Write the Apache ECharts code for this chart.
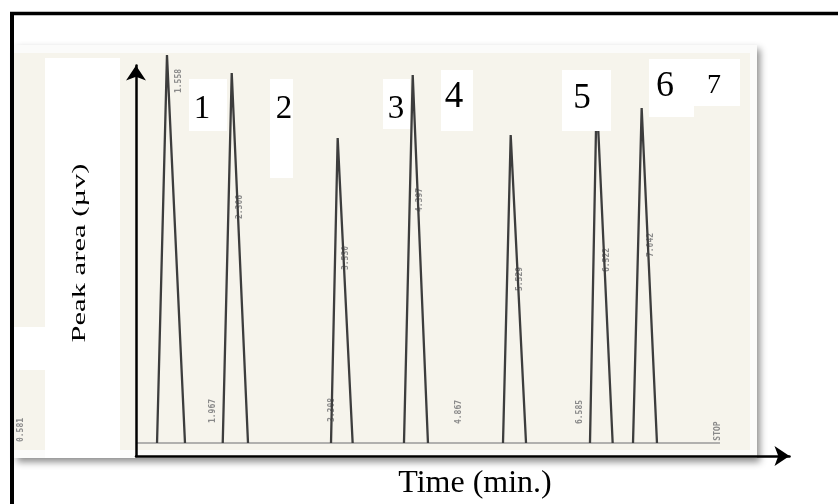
<!DOCTYPE html>
<html>
<head>
<meta charset="utf-8">
<script src="https://cdn.jsdelivr.net/npm/echarts@6/dist/echarts.min.js"></script>
<style>
html,body{margin:0;padding:0;background:#fff;}
#chart{width:838px;height:504px;}
</style>
</head>
<body>
<div id="chart"></div>
<script>
// ---- data (time in min, peak height in arbitrary µV units) ----
const peakStart  = [1.443, 2.202, 3.453, 4.296, 5.440, 6.445, 6.942];
const peakApex   = [1.558, 2.306, 3.530, 4.397, 5.529, 6.522, 7.042];
const peakEnd    = [1.766, 2.494, 3.703, 4.573, 5.706, 6.707, 7.219];
const peakHeight = [97.0, 92.5, 76.25, 92.0, 77.0, 87.0, 83.75];
const baselineRange = [1.212, 7.947];
const peakLabels = ['1', '2', '3', '4', '5', '6', '7'];
const xTitle = 'Time (min.)';
const yTitle = 'Peak area (µv)';
const printedTimes = ['1.558', '2.306', '1.967', '3.530', '3.308', '4.397', '4.867', '5.529', '6.585', '6.522', '7.042', 'STOP', '0.581'];

// ---- layout (pixel positions of decorations) ----
const labelLayout = [
  {box:[189,79,38,52], x:202, y:109, size:33},
  {box:[270,79,23,99], x:284, y:109, size:33},
  {box:[383,79,27,50], x:396, y:109, size:33},
  {box:[441,70,32,61], x:454, y:97, size:37},
  {box:[562,70,49,61], x:582, y:99, size:35},
  {box:[649,59,45,58], x:665, y:87, size:36},
  {box:[694,59,46,47], x:714, y:86, size:28}
];
const printedLayout = [
  [179,81],[240,207],[213,411],[346,258],[332,410],[420,200],[459,412],
  [520,279],[580,412],[607,260],[651,245],[718,431],[21,430]
];

const series = [];
series.push({
  type:'line', name:'baseline', showSymbol:false, silent:true, z:3,
  data: baselineRange.map(t => [t, 0]),
  lineStyle:{color:'#9a9a9a', width:1.3}
});
for (let i = 0; i < peakApex.length; i++) {
  series.push({
    type:'line', name:'peak ' + peakLabels[i], showSymbol:false, silent:true, clip:false, z:4,
    data:[[peakStart[i], 0], [peakApex[i], peakHeight[i]], [peakEnd[i], 0]],
    lineStyle:{color:'#3d3d3d', width:2.3, join:'miter'}
  });
}

const serif = '"Liberation Serif", "Times New Roman", serif';
const graphics = [];
// paper (scanned chromatogram)
graphics.push({type:'rect', z:0, shape:{x:14,y:45,width:743,height:413},
  style:{fill:'#fbfbfa', shadowBlur:7, shadowOffsetX:3, shadowOffsetY:4, shadowColor:'rgba(0,0,0,0.45)'}});
graphics.push({type:'rect', z:0, shape:{x:14,y:53,width:736,height:397}, style:{fill:'#f6f4ec'}});
graphics.push({type:'rect', z:0, shape:{x:45,y:58,width:75,height:400}, style:{fill:'#ffffff'}});
graphics.push({type:'rect', z:0, shape:{x:14,y:327,width:31,height:43}, style:{fill:'#ffffff'}});
// printed retention times (faint dotted printer text)
printedTimes.forEach((s, i) => {
  graphics.push({type:'text', z:1, x:printedLayout[i][0], y:printedLayout[i][1], rotation:Math.PI/2,
    style:{text:s, fill:'#8a8a8a', font:'bold 8px "DejaVu Sans Mono", monospace', textAlign:'center', textVerticalAlign:'middle'}});
});
// peak number boxes
peakLabels.forEach((s, i) => {
  const L = labelLayout[i];
  graphics.push({type:'rect', z:10, shape:{x:L.box[0], y:L.box[1], width:L.box[2], height:L.box[3]}, style:{fill:'#ffffff'}});
  graphics.push({type:'text', z:11, x:L.x, y:L.y,
    style:{text:s, fill:'#000', font:L.size + 'px ' + serif, textAlign:'center', textVerticalAlign:'middle'}});
});
// axis titles
graphics.push({type:'text', z:11, x:80, y:253, rotation:Math.PI/2, scaleX:1.7,
  style:{text:yTitle, fill:'#000', font:'18px ' + serif, textAlign:'center', textVerticalAlign:'middle'}});
graphics.push({type:'text', z:11, x:475, y:484,
  style:{text:xTitle, fill:'#000', font:'32px ' + serif, textAlign:'center', textVerticalAlign:'middle'}});
// outer frame
graphics.push({type:'line', z:12, shape:{x1:10, y1:13.5, x2:838, y2:13.5}, style:{stroke:'#000', lineWidth:3.5}});
graphics.push({type:'line', z:12, shape:{x1:12, y1:12, x2:12, y2:504}, style:{stroke:'#000', lineWidth:4}});

const chart = echarts.init(document.getElementById('chart'), null, {renderer:'canvas'});
chart.setOption({
  animation:false,
  backgroundColor:'#ffffff',
  grid:{left:136, right:48.5, top:65.5, bottom:48, containLabel:false, outerBoundsMode:'none'},
  xAxis:{
    type:'value', min:1.2, max:8.75, z:6,
    axisLine:{show:true, onZero:false, symbol:['none','arrow'], symbolSize:[15,15],
      lineStyle:{color:'#000', width:2.5}},
    axisTick:{show:false}, axisLabel:{show:false}, splitLine:{show:false}
  },
  yAxis:{
    type:'value', min:-3.25, max:94.375, z:6,
    axisLine:{show:true, onZero:false, symbol:['none','arrow'], symbolSize:[15,15],
      lineStyle:{color:'#000', width:2.5}},
    axisTick:{show:false}, axisLabel:{show:false}, splitLine:{show:false}
  },
  series: series,
  graphic: {elements: graphics}
});
</script>
</body>
</html>
